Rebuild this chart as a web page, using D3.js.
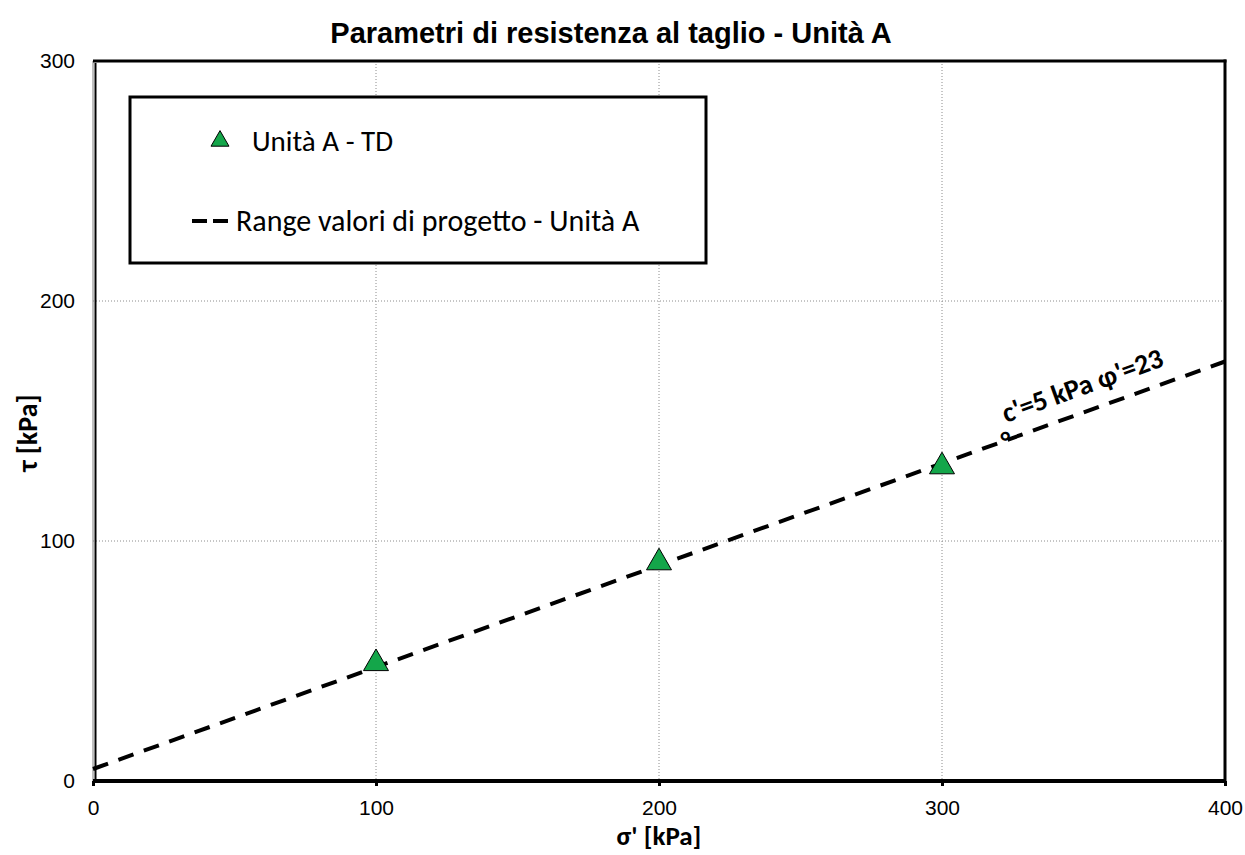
<!DOCTYPE html>
<html>
<head>
<meta charset="utf-8">
<script src="https://cdn.jsdelivr.net/npm/d3@7"></script>
<style>
  body { margin: 0; background: #fff; }
  svg { display: block; }
</style>
</head>
<body>
<svg id="chart" width="1245" height="855"></svg>
<script>
// Direct shear test results (Unità A)
const sigmaValues = [100, 200, 300];
const tauValues = [49, 91, 131];

// Design strength envelope
const cohesion = 5;      // c' [kPa]
const frictionAngle = 23; // φ' [°]
const envelopeSigma = [0, 400];

const xTicks = [0, 100, 200, 300, 400];
const yTicks = [0, 100, 200, 300];

const titleText = "Parametri di resistenza al taglio - Unità A";
const xLabel = "σ' [kPa]";
const yLabel = "τ [kPa]";
const seriesPoints = "Unità A - TD";
const seriesLine = "Range valori di progetto - Unità A";

(function () {
const svg = d3.select("#chart");
const pLeft = 93, pRight = 1225, pTop = 61, pBottom = 781;

const x = d3.scaleLinear().domain([0, 400]).range([pLeft, pRight]);
const y = d3.scaleLinear().domain([0, 300]).range([pBottom, pTop]);

const calibri = "Carlito, Lato, 'Open Sans', sans-serif";
const arial = "'Liberation Sans', Arial, sans-serif";

// Grid
svg.append("g")
  .selectAll("line")
  .data(xTicks.filter(d => d > 0 && d < 400))
  .join("line")
  .attr("x1", d => x(d)).attr("x2", d => x(d))
  .attr("y1", pTop).attr("y2", pBottom)
  .attr("stroke", "#8c8c8c").attr("stroke-width", 1)
  .attr("stroke-dasharray", "1,2");
svg.append("g")
  .selectAll("line")
  .data(yTicks.filter(d => d > 0 && d < 300))
  .join("line")
  .attr("x1", pLeft).attr("x2", pRight)
  .attr("y1", d => y(d)).attr("y2", d => y(d))
  .attr("stroke", "#8c8c8c").attr("stroke-width", 1)
  .attr("stroke-dasharray", "1,2");

// Axes (labels + small ticks)
const xAxis = d3.axisBottom(x).tickValues(xTicks).tickSize(5).tickPadding(14).tickFormat(d3.format("d"));
const gx = svg.append("g").attr("transform", `translate(0,${pBottom})`).call(xAxis);
gx.select(".domain").remove();
gx.selectAll("line").attr("stroke", "#000").attr("stroke-width", 3);
gx.selectAll("text").style("font-family", arial).style("font-size", "21px").attr("fill", "#000");

const yAxis = d3.axisLeft(y).tickValues(yTicks).tickSize(0).tickPadding(18).tickFormat(d3.format("d"));
const gy = svg.append("g").attr("transform", `translate(${pLeft},0)`).call(yAxis);
gy.select(".domain").remove();
gy.selectAll("text").style("font-family", arial).style("font-size", "21px").attr("fill", "#000");

// Plot frame
svg.append("line").attr("x1", pLeft).attr("x2", pLeft).attr("y1", pTop).attr("y2", pBottom)
  .attr("stroke", "#7f7f7f").attr("stroke-width", 1);
svg.append("line").attr("x1", pLeft + 2.5).attr("x2", pLeft + 2.5).attr("y1", pTop + 2).attr("y2", pBottom)
  .attr("stroke", "#000").attr("stroke-width", 2);
svg.append("line").attr("x1", pLeft).attr("x2", pRight + 1.5).attr("y1", pTop).attr("y2", pTop)
  .attr("stroke", "#000").attr("stroke-width", 3);
svg.append("line").attr("x1", pRight).attr("x2", pRight).attr("y1", pTop - 1.5).attr("y2", pBottom + 1.5)
  .attr("stroke", "#000").attr("stroke-width", 3);
svg.append("line").attr("x1", pLeft).attr("x2", pRight).attr("y1", pBottom).attr("y2", pBottom)
  .attr("stroke", "#000").attr("stroke-width", 4);

// Envelope τ = c' + σ' tan φ'
const tanPhi = Math.tan(frictionAngle * Math.PI / 180);
const envelope = envelopeSigma.map(s => [s, cohesion + s * tanPhi]);
svg.append("path")
  .datum(envelope)
  .attr("d", d3.line().x(d => x(d[0])).y(d => y(d[1])))
  .attr("fill", "none").attr("stroke", "#000").attr("stroke-width", 4)
  .attr("stroke-dasharray", "16,11");

// Test points
const tri = d3.symbol().type(d3.symbolTriangle).size(270);
svg.append("g")
  .selectAll("path")
  .data(sigmaValues.map((s, i) => [s, tauValues[i]]))
  .join("path")
  .attr("d", tri)
  .attr("transform", d => `translate(${x(d[0])},${y(d[1])})`)
  .attr("fill", "#14a64a").attr("stroke", "#000").attr("stroke-width", 1);

// Envelope annotation, laid along the line just above it
const ang = Math.atan2(y(cohesion + 400 * tanPhi) - y(cohesion), x(400) - x(0)) * 180 / Math.PI;
const ann = svg.append("text")
  .attr("transform", `translate(1006,423) rotate(${ang})`)
  .attr("font-family", calibri).attr("font-size", 28).attr("font-weight", "bold").attr("fill", "#000");
ann.append("tspan").attr("x", 0).attr("y", 0).text(`c'=${cohesion} kPa φ'=${frictionAngle}`);
ann.append("tspan").attr("x", -10).attr("y", 27).text("°");

// Title
svg.append("text").attr("x", 611).attr("y", 43).attr("text-anchor", "middle")
  .attr("font-family", arial).attr("font-size", 29).attr("font-weight", "bold")
  .text(titleText);

// Axis titles
svg.append("text").attr("x", 659).attr("y", 845).attr("text-anchor", "middle")
  .attr("font-family", calibri).attr("font-size", 27).attr("font-weight", "bold")
  .text(xLabel);
svg.append("text").attr("transform", "translate(37,433) rotate(-90)").attr("text-anchor", "middle")
  .attr("font-family", calibri).attr("font-size", 28).attr("font-weight", "bold")
  .text(yLabel);

// Legend
const lg = svg.append("g");
lg.append("rect").attr("x", 130).attr("y", 97).attr("width", 576).attr("height", 166)
  .attr("fill", "#fff").attr("stroke", "#000").attr("stroke-width", 3);
lg.append("path").attr("d", d3.symbol().type(d3.symbolTriangle).size(140))
  .attr("transform", "translate(220,141)")
  .attr("fill", "#14a64a").attr("stroke", "#000").attr("stroke-width", 1);
lg.append("text").attr("x", 252).attr("y", 151)
  .attr("font-family", calibri).attr("font-size", 29).text(seriesPoints);
lg.append("line").attr("x1", 192).attr("x2", 228).attr("y1", 221).attr("y2", 221)
  .attr("stroke", "#000").attr("stroke-width", 4).attr("stroke-dasharray", "15,6");
lg.append("text").attr("x", 236).attr("y", 231)
  .attr("font-family", calibri).attr("font-size", 30).text(seriesLine);
})();
</script>
</body>
</html>
